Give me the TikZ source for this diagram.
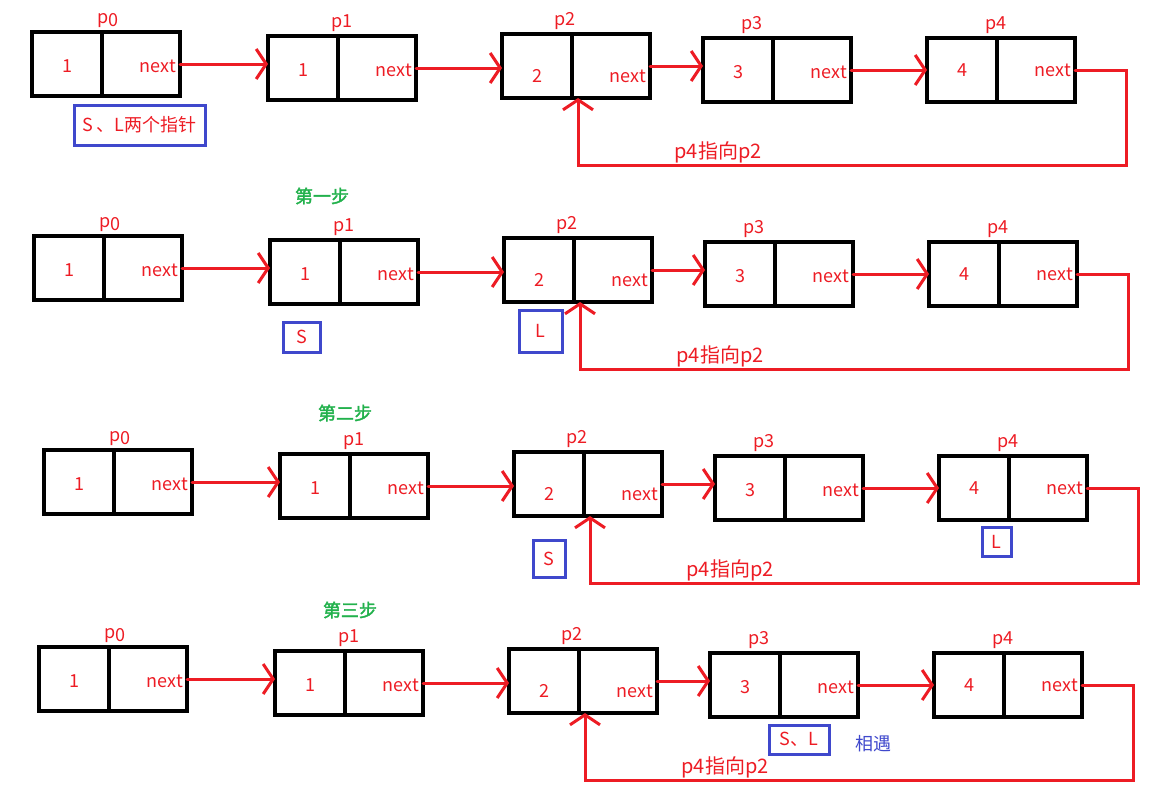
\documentclass[tikz,border=0pt]{standalone}
\usepackage{fontspec}
\setmainfont{Noto Sans CJK SC}[AutoFakeBold=2]
\usetikzlibrary{arrows.meta, positioning}
\definecolor{paintred}{RGB}{237,28,36}
\definecolor{paintblue}{RGB}{63,72,204}
\definecolor{paintgreen}{RGB}{34,177,76}

\tikzset{
  cell/.style={draw, line width=1.6pt, minimum height=32pt, inner sep=0pt, outer sep=0pt,
    text=paintred, font=\fontsize{9}{10}\selectfont},
  valcell/.style={cell, minimum width=35pt},
  nextcell/.style={cell, text width=35pt, inner xsep=2pt, align=right},
  plabel/.style={text=paintred, inner sep=1pt, font=\fontsize{9}{10}\selectfont},
  link/.style={paintred, line width=1.5pt, line cap=round,
    -{Straight Barb[length=5pt, width=15pt]}},
  ptr/.style={draw=paintblue, line width=1.5pt, text=paintred, inner sep=0pt,
    font=\fontsize{9}{10}\selectfont},
  steptitle/.style={text=paintgreen, font=\fontsize{9}{10}\selectfont\bfseries}
}

\begin{document}
\begin{tikzpicture}[x=0.5pt, y=-0.5pt]
  \useasboundingbox (0,0) rectangle (1176,787);

  % one linked list per row
  \foreach \row/\dx/\dy in {1/0/0, 2/2/204, 3/12/418, 4/7/615}{
    \begin{scope}[shift={(\dx,\dy)}]
      \foreach \k/\cx/\cy/\val/\lx/\ty/\name in {0/67/64/1/3pt/-1pt/{p\raisebox{-1.5pt}{0}},
          1/303/68/1/2pt/-1pt/p1, 2/537/66/2/-3.5pt/-5pt/p2,
          3/738/70/3/-10.5pt/-1pt/p3, 4/962/70/4/-0.5pt/0pt/p4}{
        \node[valcell] (val-\row-\k) at (\cx,\cy) {\raisebox{\ty}[\height][\depth]{\val}};
        \node[nextcell, right=0pt of val-\row-\k] (nxt-\row-\k) {\raisebox{\ty}[\height][\depth]{next}};
        \node[plabel, above=1pt of nxt-\row-\k.north west, xshift=\lx] (p-\row-\k) {\name};
      }
      \foreach \a/\b in {0/1, 1/2, 2/3, 3/4}
        \draw[link] (nxt-\row-\a.east) -- (nxt-\row-\a.east -| val-\row-\b.west);

      % p4 back to p2
      \coordinate (turn-\row) at (1126,165);
      \draw[link] (nxt-\row-4.east) -| (turn-\row) -| ([xshift=3pt]val-\row-2.south east);
      \node[plabel, font=\fontsize{10}{12}\selectfont] (back-\row) at (718,152) {p4指向p2};
    \end{scope}
  }

  % pointers
  \node[ptr, minimum width=65.5pt, minimum height=20pt] (sl-1) at (139.5,125) {S 、L两个指针};

  \node[steptitle] (title-2) at (322,196) {第一步};
  \node[ptr, minimum width=18.5pt, minimum height=15pt] (s-2) at (301.5,337) {S};
  \node[ptr, minimum width=21.5pt, minimum height=21pt] (l-2) at (540.5,331) {L};

  \node[steptitle] (title-3) at (345,413) {第二步};
  \node[ptr, minimum width=16pt, minimum height=18.5pt] (s-3) at (549,558.5) {S};
  \node[ptr, minimum width=14.5pt, minimum height=14.5pt] (l-3) at (996.5,541.5) {L};

  \node[steptitle] (title-4) at (350,610) {第三步};
  \node[ptr, minimum width=30pt, minimum height=14.5pt] (sl-4) at (799,739.5) {S、L};
  \node[text=paintblue, font=\fontsize{9}{10}\selectfont] (meet-4) at (873,744) {相遇};
\end{tikzpicture}
\end{document}
